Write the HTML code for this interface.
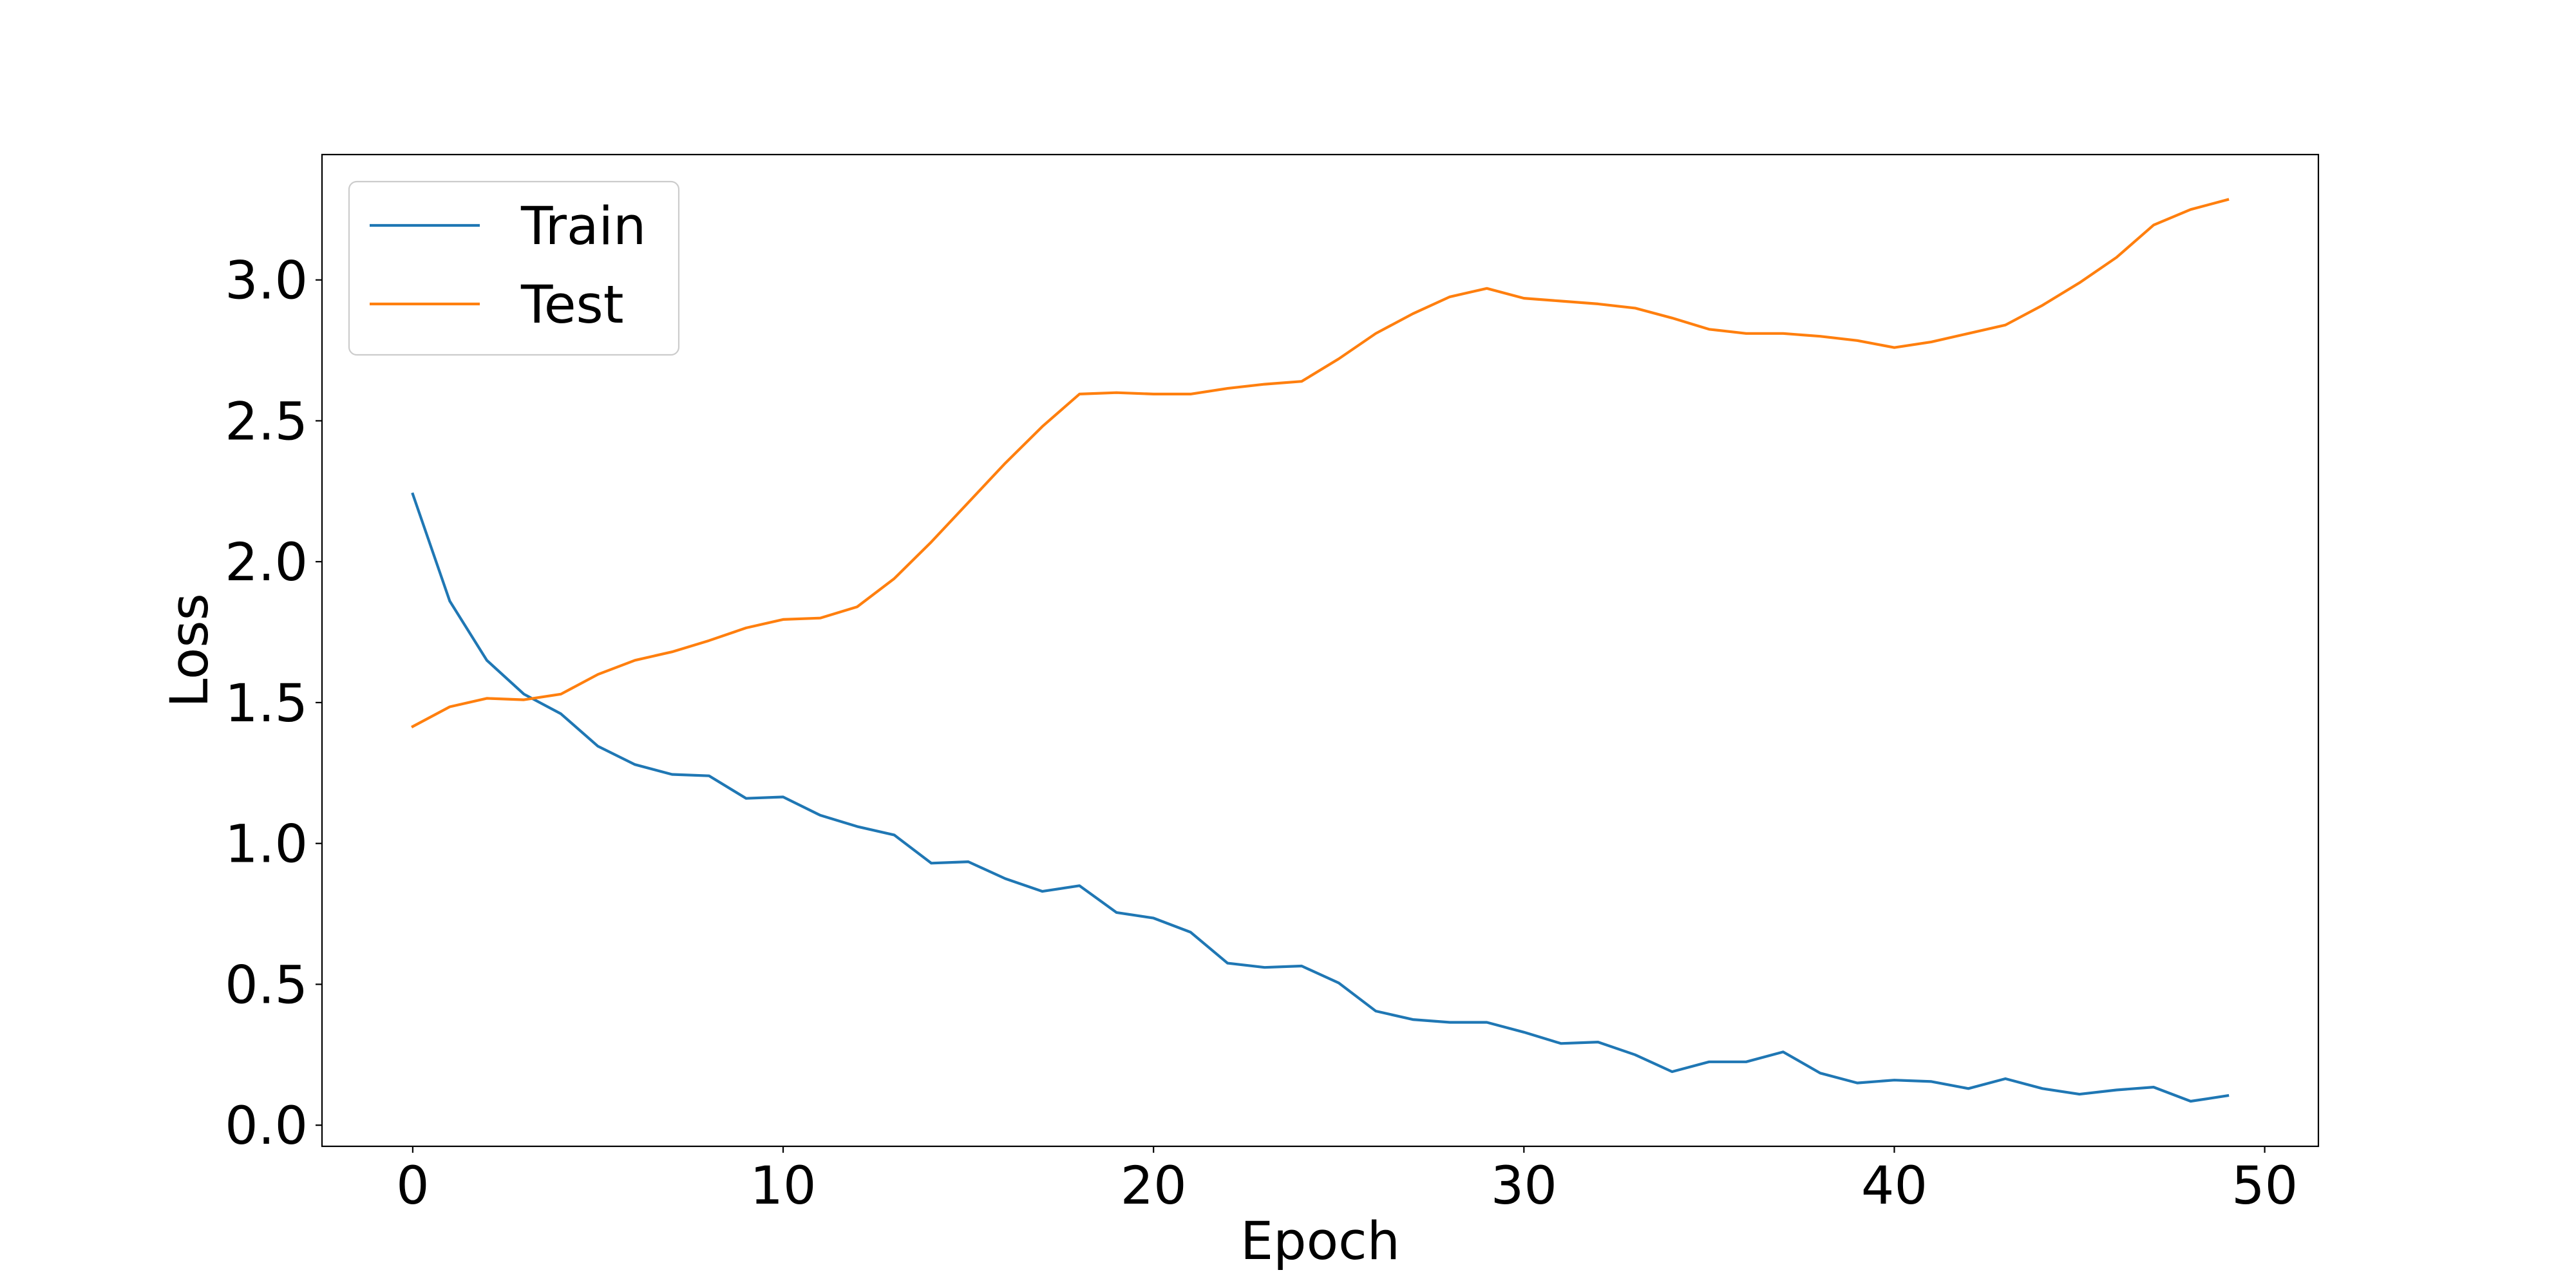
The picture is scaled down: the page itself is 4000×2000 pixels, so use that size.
<!DOCTYPE html>
<html><head><meta charset="utf-8"><style>
html,body{margin:0;padding:0;background:#fff;}
svg{display:block;font-family:"DejaVu Sans","Liberation Sans",sans-serif;}
</style></head><body>
<svg id="chart" width="4000" height="2000" viewBox="0 0 4000 2000" xmlns="http://www.w3.org/2000/svg">
<rect x="0" y="0" width="4000" height="2000" fill="#fff"/>
<g id="series"></g>
<rect x="500" y="240" width="3100" height="1540" fill="none" stroke="#000" stroke-width="2.2"/>
<g id="xticks"></g>
<g id="yticks"></g>
<text x="2050" y="1955" font-size="81" text-anchor="middle">Epoch</text>
<text x="0" y="0" font-size="81" text-anchor="middle" transform="translate(322,1010) rotate(-90)">Loss</text>
<g>
<rect x="542" y="282" width="512" height="269" rx="12" fill="#fff" fill-opacity="0.8" stroke="#ccc" stroke-width="2.2"/>
<line x1="574" y1="350" x2="745" y2="350" stroke="#1f77b4" stroke-width="4.2"/>
<text x="809" y="379" font-size="81">Train</text>
<line x1="574" y1="472" x2="745" y2="472" stroke="#ff7f0e" stroke-width="4.2"/>
<text x="809" y="501" font-size="81">Test</text>
</g>
</svg>
<script>
const epochs = Array.from({length:50},(_,i)=>i);
const trainLoss = [2.24,1.86,1.65,1.53,1.46,1.345,1.28,1.245,1.24,1.16,1.165,1.10,1.06,1.03,0.93,0.935,0.875,0.83,0.85,0.755,0.735,0.685,0.575,0.56,0.565,0.505,0.405,0.375,0.365,0.365,0.33,0.29,0.295,0.25,0.19,0.225,0.225,0.26,0.185,0.15,0.16,0.155,0.13,0.165,0.13,0.11,0.125,0.135,0.085,0.105];
const testLoss = [1.415,1.485,1.515,1.51,1.53,1.60,1.65,1.68,1.72,1.765,1.795,1.80,1.84,1.94,2.07,2.21,2.35,2.48,2.595,2.60,2.595,2.595,2.615,2.63,2.64,2.72,2.81,2.88,2.94,2.97,2.935,2.925,2.915,2.90,2.865,2.825,2.81,2.81,2.80,2.785,2.76,2.78,2.81,2.84,2.91,2.99,3.08,3.195,3.25,3.285];
const xTicks = [0,10,20,30,40,50];
const yTicks = [0.0,0.5,1.0,1.5,2.0,2.5,3.0];

const NS="http://www.w3.org/2000/svg";
const L=500,R=3600,T=240,B=1780;
const allY=trainLoss.concat(testLoss);
let ymin=Math.min(...allY),ymax=Math.max(...allY);
const ym=(ymax-ymin)*0.05; ymin-=ym; ymax+=ym;
let xmin=Math.min(...epochs),xmax=Math.max(...epochs);
const xm=(xmax-xmin)*0.05; xmin-=xm; xmax+=xm;
const sx=v=>L+(v-xmin)/(xmax-xmin)*(R-L);
const sy=v=>B-(v-ymin)/(ymax-ymin)*(B-T);

function mk(tag,attrs,parent){const e=document.createElementNS(NS,tag);for(const k in attrs)e.setAttribute(k,attrs[k]);parent.appendChild(e);return e;}

const xg=document.getElementById('xticks');
xTicks.forEach(t=>{
  const x=sx(t);
  const ln=mk('line',{x1:x,y1:B,x2:x,y2:B+10,stroke:'#000','stroke-width':2.2},xg);
  
  
  const tx=mk('text',{x:x,y:B+89,'font-size':81,'text-anchor':'middle'},xg);
  tx.textContent=String(t);
  
  
});
const yg=document.getElementById('yticks');
yTicks.forEach(t=>{
  const y=sy(t);
  const ln=mk('line',{x1:L-10,y1:y,x2:L,y2:y,stroke:'#000','stroke-width':2.2},yg);
  
  
  const tx=mk('text',{x:L-22,y:y+29,'font-size':81,'text-anchor':'end'},yg);
  tx.textContent=t.toFixed(1);
  
  
});
const sg=document.getElementById('series');
function line(vals,color,name){
  const d=vals.map((v,i)=>(i?'L':'M')+sx(epochs[i]).toFixed(1)+' '+sy(v).toFixed(1)).join(' ');
  const p=mk('path',{d:d,fill:'none',stroke:color,'stroke-width':4.2,'stroke-linejoin':'round','stroke-linecap':'square'},sg);
  
  
}
line(trainLoss,'#1f77b4','train-line');
line(testLoss,'#ff7f0e','test-line');
</script>
</body></html>
